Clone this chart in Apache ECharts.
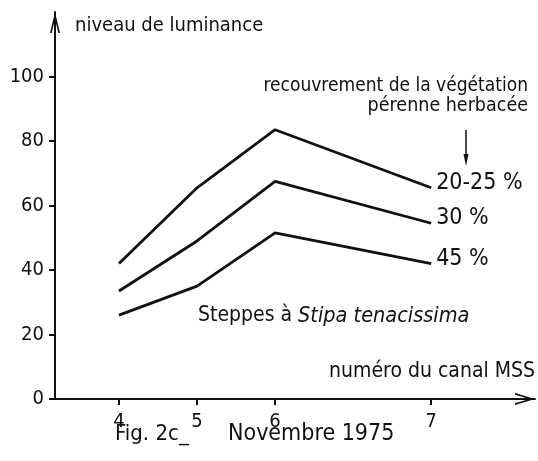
<!DOCTYPE html>
<html>
<head>
<meta charset="utf-8">
<script src="https://cdn.jsdelivr.net/npm/echarts@6/dist/echarts.min.js"></script>
<style>html,body{margin:0;padding:0;background:#fff;}#c{width:538px;height:461px;}</style>
</head>
<body>
<div id="c"></div>
<script>
// MSS channels and their band centres (micrometres) — channel 7 is a wider band
const categories = ['4', '5', '6', '7'];
const bandCenters = [0.55, 0.65, 0.75, 0.95];
// luminance levels per cover class
const cover2025 = [42, 65.5, 83.5, 65.5];
const cover30 = [33.5, 49, 67.5, 54.5];
const cover45 = [26, 35, 51.5, 42];
const seriesNames = ['20-25 %', '30 %', '45 %'];
const yTickValues = [0, 20, 40, 60, 80, 100];

const FONT = 'DejaVu Sans Condensed';
const INK = '#111';

function pts(vals) { return vals.map((v, i) => [bandCenters[i], v]); }

function lineSeries(name, vals) {
  return {
    type: 'line', name: name, data: pts(vals), symbol: 'none', silent: true,
    lineStyle: { color: INK, width: 2.8 },
    endLabel: { show: true, formatter: name, color: INK, fontFamily: FONT, fontSize: 23, distance: 5, offset: [0, -5] }
  };
}

const chart = echarts.init(document.getElementById('c'), null, { renderer: 'canvas' });
chart.setOption({
  animation: false,
  backgroundColor: '#fff',
  grid: { left: 55, right: 3, top: 12, bottom: 62, containLabel: false },
  xAxis: {
    type: 'value', min: 0.468, max: 1.083,
    name: 'numéro du canal MSS', nameLocation: 'end', nameGap: 0,
    nameTextStyle: { color: INK, fontFamily: FONT, fontSize: 21, align: 'right', verticalAlign: 'bottom', padding: [0, 0, 17, 0] },
    axisLine: { show: true, lineStyle: { color: INK, width: 2 }, symbol: ['none', 'path://M0,0 L6,20 L4.3,20 L0,5.7 L-4.3,20 L-6,20 Z'], symbolSize: [12, 20], symbolOffset: [0, -10] },
    axisTick: { show: true, customValues: bandCenters, length: 6, lineStyle: { color: INK, width: 2 } },
    axisLabel: { customValues: bandCenters, formatter: v => categories[bandCenters.indexOf(v)], color: INK, fontFamily: FONT, fontSize: 20, margin: 13 },
    splitLine: { show: false }
  },
  yAxis: {
    type: 'value', min: 0, max: 120,
    name: 'niveau de luminance', nameLocation: 'end', nameGap: -14,
    nameTextStyle: { color: INK, fontFamily: FONT, fontSize: 20, align: 'left', verticalAlign: 'middle', padding: [0, 0, 0, 20] },
    axisLine: { show: true, lineStyle: { color: INK, width: 2 }, symbol: ['none', 'path://M0,0 L5,21 L3.3,21 L0,7.1 L-3.3,21 L-5,21 Z'], symbolSize: [10, 21], symbolOffset: [0, -10.5] },
    axisTick: { show: true, customValues: yTickValues, length: 6, lineStyle: { color: INK, width: 2 } },
    axisLabel: { customValues: yTickValues, color: INK, fontFamily: FONT, fontSize: 20, margin: 11 },
    splitLine: { show: false }
  },
  series: [
    lineSeries(seriesNames[0], cover2025),
    lineSeries(seriesNames[1], cover30),
    lineSeries(seriesNames[2], cover45)
  ],
  graphic: [
    { type: 'text', x: 528, y: 86, style: { text: 'recouvrement de la végétation', align: 'right', verticalAlign: 'middle', fill: INK, fontFamily: FONT, fontSize: 19 } },
    { type: 'text', x: 528, y: 106, style: { text: 'pérenne herbacée', align: 'right', verticalAlign: 'middle', fill: INK, fontFamily: FONT, fontSize: 19.5 } },
    { type: 'line', shape: { x1: 466, y1: 130, x2: 466, y2: 158 }, style: { stroke: INK, lineWidth: 1.5 } },
    { type: 'polygon', shape: { points: [[463.5, 154], [466, 166], [468.5, 154]] }, style: { fill: INK } },
    { type: 'text', x: 198, y: 316, style: { text: '{n|Steppes à }{i|Stipa tenacissima}', verticalAlign: 'middle', fill: INK, rich: { n: { fontFamily: FONT, fontSize: 21, fill: INK }, i: { fontFamily: FONT, fontSize: 21.5, fontStyle: 'italic', fill: INK } } } },
    { type: 'text', x: 115, y: 434, style: { text: 'Fig. 2c_', verticalAlign: 'middle', fill: INK, fontFamily: FONT, fontSize: 22 } },
    { type: 'text', x: 228, y: 434, style: { text: 'Novembre 1975', verticalAlign: 'middle', fill: INK, fontFamily: FONT, fontSize: 23 } }
  ]
});
</script>
</body>
</html>
